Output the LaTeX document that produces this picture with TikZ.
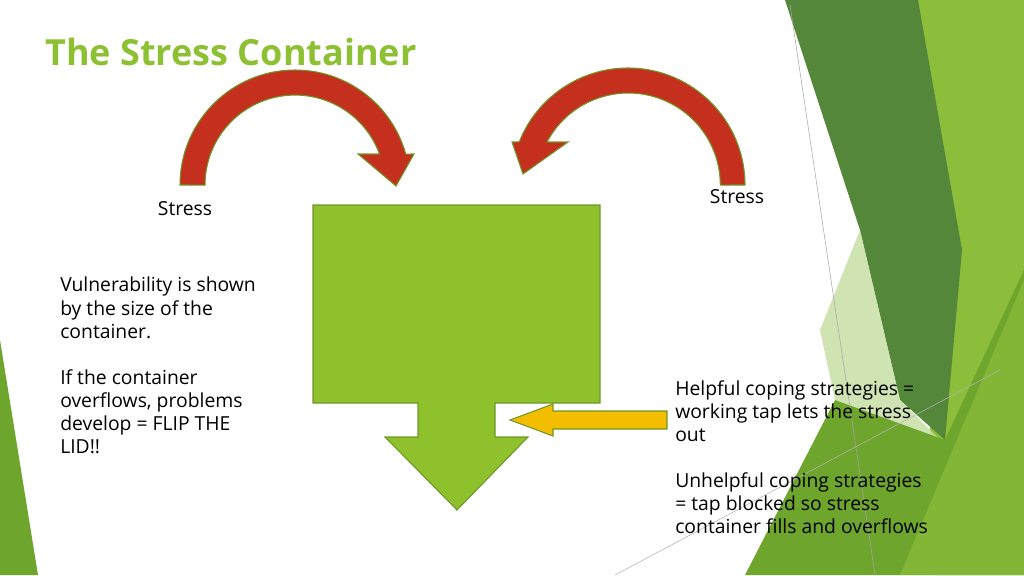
\documentclass[tikz,border=0pt]{standalone}
\usepackage{fontspec}
\setmainfont{Open Sans}
\usetikzlibrary{positioning}
\definecolor{titlegreen}{RGB}{141,193,51}
\definecolor{boxgreen}{RGB}{143,193,44}
\definecolor{edgegreen}{RGB}{110,150,40}
\definecolor{arrowred}{RGB}{197,48,30}
\definecolor{tapyellow}{RGB}{244,190,0}
\definecolor{darkleaf}{RGB}{85,135,58}
\definecolor{midleaf}{RGB}{110,165,45}
\definecolor{lightleaf}{RGB}{140,190,60}
\definecolor{paleleaf}{RGB}{200,222,165}
\tikzset{
  body/.style={font=\fontsize{14.5pt}{17.3pt}\selectfont, align=left, anchor=north west, inner sep=0pt},
  tag/.style={font=\fontsize{14.5pt}{16pt}\selectfont, inner sep=0pt},
  redbend/.style={fill=arrowred, draw=edgegreen, line width=0.8pt},
}
\begin{document}
\begin{tikzpicture}[x=0.75pt, y=-0.75pt]
  \useasboundingbox (0,0) rectangle (1024,575);
  % Hintergrund
  \fill[lightleaf] (915,0) -- (1024,0) -- (1024,575) -- (935,575) -- cycle;
  \fill[darkleaf] (785,0) -- (918,0) -- (962,250) -- (945,440) -- (900,400) -- (860,230) -- cycle;
  \fill[paleleaf, opacity=0.85] (860,230) -- (900,400) -- (940,440) -- (835,400) -- (820,330) -- cycle;
  \fill[midleaf] (1024,270) -- (1024,575) -- (745,575) -- (835,400) -- (945,440) -- cycle;
  \fill[lightleaf, opacity=0.7] (1024,280) -- (1024,575) -- (900,575) -- cycle;
  \fill[midleaf] (0,340) -- (38,575) -- (0,575) -- cycle;
  \draw[gray!70, line width=0.4pt] (790,5) -- (875,575);
  \draw[gray!60, line width=0.4pt] (615,575) -- (1000,370);
  % Titel
  \node[anchor=west, inner sep=0pt, text=titlegreen, font=\fontsize{27pt}{31pt}\selectfont\bfseries] (titel) at (45,52) {The Stress Container};
  % Pfeile
  \draw[redbend] (180,185) arc[start angle=180, end angle=344.4, radius=115] -- (414,154) -- (396,186) -- (358,154) -- (379.5,154)
    arc[start angle=339.8, end angle=180, radius=90] -- cycle;
  \draw[redbend] (745,185) arc[start angle=360, end angle=201.6, radius=117] -- (512,142) -- (523,174) -- (568,142) -- (547,142)
    arc[start angle=207.9, end angle=360, radius=92] -- cycle;
  % Behaelter
  \draw[fill=boxgreen, draw=edgegreen, line width=0.8pt] (313,205) -- (600,205) -- (600,403) -- (495,403) -- (495,437) -- (528,437)
    -- (457,510) -- (385,437) -- (418,437) -- (418,403) -- (313,403) -- cycle;
  \draw[fill=tapyellow, draw=edgegreen, line width=0.8pt] (667,411) -- (553,411) -- (553,404) -- (510,420) -- (553,436) -- (553,429) -- (667,429) -- cycle;
  % Texte
  \node[tag] (stressl) at (185,209) {Stress};
  \node[tag] (stressr) at (737,197) {Stress};
  \node[body] (links) at (60,277) {Vulnerability is shown\\by the size of the\\container.\\[17.3pt]If the container\\overflows, problems\\develop = FLIP THE\\LID!!};
  \node[body] (rechts) at (675,380) {Helpful coping strategies =\\working tap lets the stress\\out\\[17.3pt]Unhelpful coping strategies\\= tap blocked so stress\\container fills and overflows};
\end{tikzpicture}
\end{document}
